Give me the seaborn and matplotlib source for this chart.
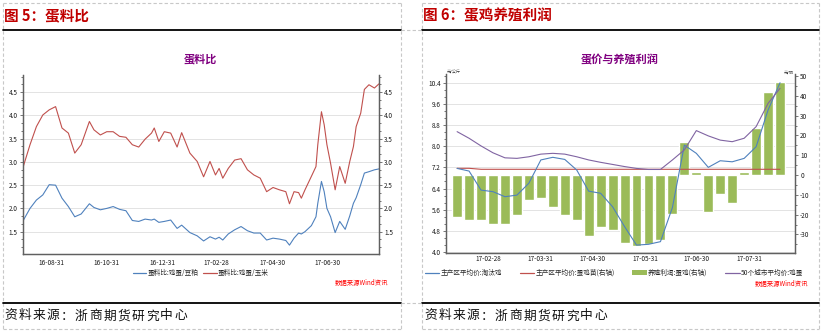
import numpy as np
import pandas as pd
import matplotlib
matplotlib.use("Agg")
import matplotlib.pyplot as plt
import matplotlib.dates as mdates
from matplotlib.ticker import MultipleLocator, AutoMinorLocator, FormatStrFormatter
from matplotlib.lines import Line2D
from matplotlib.patches import Patch
import seaborn as sns

# ---------------- 图5 蛋料比 data ----------------
ratio_base_date = "2016-08-31"
ratio_day_offsets = [-31, -23, -16, -9, -2, 5, 12, 19, 26, 33, 42, 47, 54, 61, 68, 75, 82, 89, 96, 103,
                     110, 113, 118, 124, 131, 138, 143, 152, 160, 167,
                     174, 180, 184, 188, 194, 201, 208, 215, 222, 229, 236, 243, 250, 257, 261, 266,
                     271, 274, 278, 285, 290, 292, 296, 299, 302, 306, 311, 316, 322, 327, 331, 334,
                     339, 343, 348, 354, 359]
ratio_egg_soymeal = [1.72, 2.00, 2.18, 2.29, 2.51, 2.50, 2.22, 2.04, 1.82, 1.88, 2.10, 2.02, 1.97, 2.00,
                     2.04, 1.98, 1.95, 1.74, 1.72, 1.77, 1.75, 1.77, 1.70, 1.72, 1.75, 1.57, 1.64, 1.48,
                     1.41, 1.30,
                     1.39, 1.34, 1.38, 1.32, 1.45, 1.54, 1.61, 1.52, 1.47, 1.47, 1.32, 1.36, 1.34, 1.31,
                     1.21, 1.36, 1.47, 1.45, 1.50, 1.63, 1.82, 2.11, 2.58, 2.36, 2.00, 1.82, 1.48, 1.72,
                     1.55, 1.84, 2.11, 2.23, 2.51, 2.76, 2.79, 2.83, 2.85]
ratio_egg_corn = [2.86, 3.37, 3.76, 4.01, 4.12, 4.19, 3.73, 3.62, 3.19, 3.37, 3.87, 3.69, 3.58, 3.65,
                  3.65, 3.55, 3.53, 3.37, 3.32, 3.49, 3.62, 3.73, 3.44, 3.65, 3.62, 3.32, 3.63, 3.19,
                  3.01, 2.68,
                  3.01, 2.72, 2.86, 2.65, 2.86, 3.04, 3.07, 2.83, 2.72, 2.65, 2.36, 2.45, 2.40, 2.36,
                  2.10, 2.36, 2.34, 2.22, 2.40, 2.69, 2.90, 3.37, 4.08, 3.80, 3.37, 2.97, 2.40, 2.90,
                  2.54, 3.01, 3.33, 3.76, 4.05, 4.56, 4.66, 4.59, 4.68]
ratio_labels = ["蛋料比:鸡蛋/豆粕", "蛋料比:鸡蛋/玉米"]
ratio_yticks = [1.5, 2.0, 2.5, 3.0, 3.5, 4.0, 4.5]
ratio_xlim = ["2016-07-31", "2017-08-25"]

# ---------------- 图6 蛋鸡养殖利润 data ----------------
week_dates = ["2017-02-10", "2017-02-17", "2017-02-24", "2017-03-03", "2017-03-10", "2017-03-17",
              "2017-03-24", "2017-03-31", "2017-04-07", "2017-04-14", "2017-04-21", "2017-04-28",
              "2017-05-05", "2017-05-12", "2017-05-19", "2017-05-26", "2017-06-02", "2017-06-09",
              "2017-06-16", "2017-06-23", "2017-06-30", "2017-07-07", "2017-07-14", "2017-07-21",
              "2017-07-28", "2017-08-04", "2017-08-11", "2017-08-18"]
price_cull_hen = [7.16, 7.06, 6.34, 6.28, 6.09, 6.15, 6.60, 7.48, 7.58, 7.50, 7.10, 6.30, 6.22, 5.71,
                  4.96, 4.26, 4.29, 4.39, 5.68, 8.04, 7.73, 7.20, 7.45, 7.41, 7.54, 7.98, 9.37, 10.40]
price_chick = [3.4, 3.4, 2.9, 2.9, 2.9, 2.9, 2.9, 2.9, 2.9, 2.9, 2.9, 2.9, 2.9, 2.9,
               2.9, 2.9, 2.9, 2.9, 2.9, 2.9, 2.9, 2.9, 2.9, 2.9, 2.9, 2.9, 2.9, 2.9]
profit_layer = [-21.0, -22.7, -22.7, -24.7, -24.7, -20.2, -12.6, -11.4, -16.0, -20.2, -22.7, -30.8,
                -26.1, -27.8, -34.2, -35.9, -34.8, -32.8, -19.7, 16.8, 1.5, -18.7, -9.6, -14.0,
                1.5, 23.7, 41.9, 47.0]
price_egg_50city = [8.55, 8.30, 8.01, 7.75, 7.56, 7.54, 7.60, 7.70, 7.73, 7.70, 7.60, 7.48, 7.39, 7.31,
                    7.23, 7.16, 7.12, 7.12, 7.48, 7.86, 8.59, 8.39, 8.23, 8.17, 8.30, 8.74, 9.62, 10.19]
profit_labels = ["主产区平均价:淘汰鸡", "主产区平均价:蛋鸡苗(右轴)", "养殖利润:蛋鸡(右轴)", "50个城市平均价:鸡蛋"]
profit_left_ticks = [4.0, 4.8, 5.6, 6.4, 7.2, 8.0, 8.8, 9.6, 10.4]
profit_right_ticks = [-30, -20, -10, 0, 10, 20, 30, 40, 50]
profit_xlim = ["2017-02-03 12:00", "2017-08-26 18:00"]

# ---------------- styling ----------------
sns.set_theme(style="white")
plt.rcParams["font.family"] = ["Noto Sans CJK SC", "DejaVu Sans"]
plt.rcParams["axes.unicode_minus"] = False

W, H = 824, 334
fig = plt.figure(figsize=(W / 100, H / 100), dpi=100)
fig.patch.set_facecolor("white")


def fx(px):
    return px / W


def fy(py):
    return 1 - py / H


BLUE = "#4F81BD"
RED = "#C0504D"
GREEN = "#9BBB59"
PURPLE = "#8064A2"
SPINE = "#606060"
TICKFS = 4.6
TITLE_RED = "#C00000"
LW = 0.8


def style_axis(ax, sides):
    for s in ["top", "bottom", "left", "right"]:
        ax.spines[s].set_visible(s in sides)
        ax.spines[s].set_color(SPINE)
        ax.spines[s].set_linewidth(0.9)
    ax.tick_params(which="both", direction="out", color=SPINE, width=0.6, labelsize=TICKFS,
                   labelcolor="#1a1a1a", pad=1.5)
    ax.tick_params(which="major", length=2.2)
    ax.tick_params(which="minor", length=1.6)


# ================= Left chart =================
rdates = pd.Timestamp(ratio_base_date) + pd.to_timedelta(ratio_day_offsets, unit="D")
df_ratio = pd.DataFrame({"date": rdates, "soy": ratio_egg_soymeal, "corn": ratio_egg_corn})

axL = fig.add_axes([fx(22.7), fy(253.5), fx(379) - fx(22.7), fy(75) - fy(253.5)])
axLr = axL.twinx()
sns.lineplot(data=df_ratio, x="date", y="soy", ax=axL, color=BLUE, linewidth=LW, estimator=None)
sns.lineplot(data=df_ratio, x="date", y="corn", ax=axLr, color=RED, linewidth=LW, estimator=None)
ylimL = (1.03, 4.87)
for a in (axL, axLr):
    a.set_ylim(*ylimL)
    a.set_yticks(ratio_yticks)
    a.yaxis.set_major_formatter(FormatStrFormatter("%.1f"))
    a.yaxis.set_minor_locator(AutoMinorLocator(3))
    a.set_xlim(pd.Timestamp(ratio_xlim[0]), pd.Timestamp(ratio_xlim[1]))
    a.set_xlabel("")
    a.set_ylabel("")
axL.yaxis.grid(True, color="#E3E3E3", linewidth=0.7)
axL.xaxis.grid(False)
axL.set_axisbelow(True)
style_axis(axL, ["left", "bottom", "right"])
style_axis(axLr, ["left", "bottom", "right"])
axL.xaxis.set_major_locator(mdates.MonthLocator(bymonth=[2, 4, 6, 8, 10, 12], bymonthday=-1))
axL.xaxis.set_minor_locator(mdates.MonthLocator(bymonth=[1, 3, 5, 7, 9, 11], bymonthday=-1))
axL.xaxis.set_major_formatter(mdates.DateFormatter("%y-%m-%d"))
for lab in axL.get_xticklabels():
    lab.set_rotation(0)
    lab.set_ha("center")

handlesL = [Line2D([], [], color=BLUE, lw=0.9), Line2D([], [], color=RED, lw=0.9)]
axL.legend(handlesL, ratio_labels, loc="center", bbox_to_anchor=(fx(201), fy(273)),
           bbox_transform=fig.transFigure, ncol=2, frameon=False, fontsize=4.8,
           handlelength=2.0, handletextpad=0.2, columnspacing=0.7)

# ================= Right chart =================
wdates = pd.to_datetime(week_dates)
df_p = pd.DataFrame({"date": wdates, "cull": price_cull_hen, "chick": price_chick,
                     "profit": profit_layer, "egg": price_egg_50city})

rect = [fx(446), fy(253.3), fx(795) - fx(446), fy(74) - fy(253.3)]
axG = fig.add_axes(rect)          # left scale, grid + ticks
axB = axG.twinx()                 # right scale: bars + chick price
axN = axG.twinx()                 # left scale: lines on top

ylimG = (3.95, 10.73)
ylimB = (-39.5, 51.0)
xl = (pd.Timestamp(profit_xlim[0]), pd.Timestamp(profit_xlim[1]))

axB.bar(df_p["date"], df_p["profit"], width=5.8, color=GREEN, zorder=2)
sns.lineplot(data=df_p, x="date", y="chick", ax=axB, color=RED, linewidth=LW, estimator=None, zorder=3)
sns.lineplot(data=df_p, x="date", y="cull", ax=axN, color=BLUE, linewidth=LW, estimator=None)
sns.lineplot(data=df_p, x="date", y="egg", ax=axN, color=PURPLE, linewidth=LW, estimator=None)

for a in (axG, axB, axN):
    a.set_xlim(*xl)
    a.set_xlabel("")
    a.set_ylabel("")
axG.set_ylim(*ylimG)
axN.set_ylim(*ylimG)
axB.set_ylim(*ylimB)
axN.set_axis_off()

axG.set_yticks(profit_left_ticks)
axG.yaxis.set_major_formatter(FormatStrFormatter("%.1f"))
axG.yaxis.set_minor_locator(AutoMinorLocator(3))
axB.set_yticks(profit_right_ticks)
axB.yaxis.set_major_formatter(FormatStrFormatter("%d"))
axB.yaxis.set_minor_locator(AutoMinorLocator(2))
axG.yaxis.grid(True, color="#E3E3E3", linewidth=0.7)
axG.xaxis.grid(False)
style_axis(axG, ["left", "bottom", "right"])
style_axis(axB, ["left", "bottom", "right"])
axG.xaxis.set_major_locator(mdates.MonthLocator(bymonthday=-1))
axG.xaxis.set_minor_locator(mdates.MonthLocator(bymonthday=10))
axG.xaxis.set_major_formatter(mdates.DateFormatter("%y-%m-%d"))
axG.tick_params(axis="x", which="major", length=0)
axG.tick_params(axis="x", which="minor", length=2.2)
axB.tick_params(axis="x", which="both", length=0, labelbottom=False)

handlesP = [Line2D([], [], color=BLUE, lw=0.9), Line2D([], [], color=RED, lw=0.9),
            Patch(facecolor=GREEN, edgecolor="none"), Line2D([], [], color=PURPLE, lw=0.9)]
axG.legend(handlesP, profit_labels, loc="center", bbox_to_anchor=(fx(614), fy(273)),
           bbox_transform=fig.transFigure, ncol=4, frameon=False, fontsize=4.8,
           handlelength=2.2, handletextpad=0.2, columnspacing=2.6)

# unit labels
fig.text(fx(447), fy(72.5), "元/公斤", fontsize=3, ha="left", va="center", color="#333333")
fig.text(fx(794), fy(72.5), "元/羽", fontsize=3, ha="right", va="center", color="#333333")

# ================= Titles, sources, frame =================
fig.text(fx(4), fy(15), "图 5：蛋料比", fontsize=10.5, weight="bold", color=TITLE_RED, ha="left", va="center")
fig.text(fx(423), fy(15), "图 6：蛋鸡养殖利润", fontsize=10.5, weight="bold", color=TITLE_RED, ha="left", va="center")
fig.text(fx(200), fy(59), "蛋料比", fontsize=8, weight="bold", color="#800080", ha="center", va="center")
fig.text(fx(620), fy(60), "蛋价与养殖利润", fontsize=8, weight="bold", color="#800080", ha="center", va="center")
fig.text(fx(388), fy(283), "数据来源Wind资讯", fontsize=4.6, style="italic", color="#FF0000", ha="right", va="center")
fig.text(fx(808), fy(284), "数据来源Wind资讯", fontsize=4.6, style="italic", color="#FF0000", ha="right", va="center")

src = "资料来源：浙商期货研究中心"
for x0 in (4.0, 424.0):
    for i, ch in enumerate(src):
        fig.text(fx(x0 + i * 14.2), fy(316), ch, fontsize=9.2, color="#111111", ha="left", va="center")

dash = dict(color="#C8C8C8", linewidth=0.8, linestyle=(0, (3, 2)))
def fline(x0, y0, x1, y1, **kw):
    fig.add_artist(Line2D([fx(x0), fx(x1)], [fy(y0), fy(y1)], transform=fig.transFigure, **kw))

for (a, b) in ((3.3, 400.5), (422.3, 819.3)):
    fline(a, 3.3, a, 329.3, **dash)
    fline(b, 3.3, b, 329.3, **dash)
    fline(a, 3.3, b, 3.3, **dash)
    fline(a, 329.3, b, 329.3, **dash)
    fline(a, 30, b, 30, color="black", linewidth=1.3)
    fline(a, 302.7, b, 302.7, color="black", linewidth=1.3)
fline(400.5, 30, 422.3, 30, **dash)
fline(400.5, 302.7, 422.3, 302.7, **dash)

fig.savefig("out.png", dpi=100, facecolor="white")
